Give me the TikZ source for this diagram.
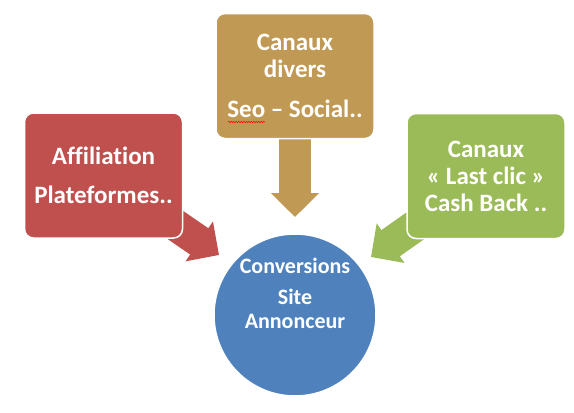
\documentclass[tikz,border=0pt]{standalone}
\usepackage{fontspec}
\setmainfont{Carlito}[Ligatures=NoCommon]
\usetikzlibrary{arrows.meta, backgrounds, decorations.pathmorphing}
\definecolor{affred}{HTML}{C0504D}
\definecolor{divgold}{HTML}{C09A54}
\definecolor{lastgreen}{HTML}{9BBB59}
\definecolor{convblue}{HTML}{4F81BD}

\begin{document}
\begin{tikzpicture}[x=1pt, y=-1pt,
  font=\bfseries\fontsize{25}{27}\selectfont,
  box/.style={rectangle, draw=white, line width=1.5pt, rounded corners=9pt, text=white, align=center, minimum width=158pt, minimum height=125pt, inner sep=0pt},
  goal/.style={circle, draw=white, line width=1.5pt, fill=convblue, minimum size=162pt, inner sep=0pt},
  goaltext/.style={text=white, align=center, font=\bfseries\fontsize{22}{24}\selectfont},
  arr/.style={line width=32pt, -{Triangle[width=47pt, length=24pt]}}]
\useasboundingbox (0,0) rectangle (574,413);
% the three sources and the target
\node[box, fill=affred] (aff) at (103.5,175.5) {Affiliation\\[12pt]Plateformes..};
\node[box, fill=divgold] (div) at (295,76) {Canaux\\divers\\[13pt]Seo -- Social..};
\node[box, fill=lastgreen] (last) at (486,176) {Canaux\\« Last clic »\\Cash Back ..};
\node[goal] (conv) at (295,315) {};
\node[goaltext] (convt) at ([yshift=22pt]conv.center) {Conversions\\[7pt]Site\\Annonceur};
% spelling mark under Seo
\draw[red, line width=0.5pt, decorate, decoration={snake, amplitude=0.7pt, segment length=2.5pt}] (228,122) -- (265,122);
% arrow tips
\coordinate (afftip) at (219,255);
\coordinate (divtip) at (295,217);
\coordinate (lasttip) at (371,257);
\begin{scope}[on background layer]
\draw[arr, affred] (aff.center) -- (afftip);
\draw[arr, divgold] (div.center) -- (divtip);
\draw[arr, lastgreen] (last.center) -- (lasttip);
\end{scope}
\end{tikzpicture}
\end{document}
